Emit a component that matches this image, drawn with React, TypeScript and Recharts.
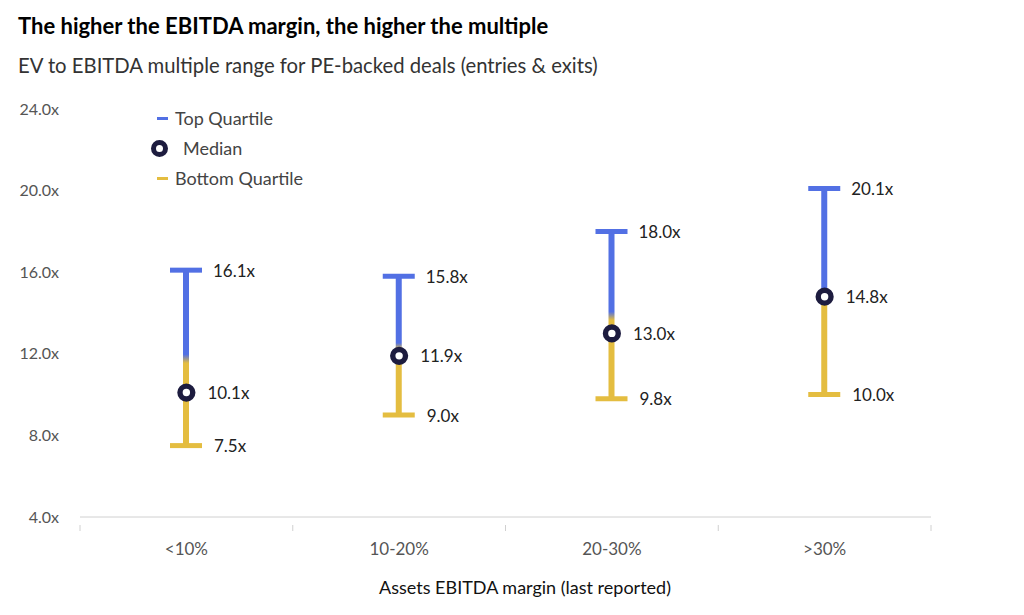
import { ComposedChart, Bar, Scatter, XAxis, YAxis, Legend } from 'recharts'

const CATEGORIES = ['<10%', '10-20%', '20-30%', '>30%']
const TOP_QUARTILE = [16.1, 15.8, 18.0, 20.1]
const MEDIAN = [10.1, 11.9, 13.0, 14.8]
const BOTTOM_QUARTILE = [7.5, 9.0, 9.8, 10.0]
const Y_TICKS = [4, 8, 12, 16, 20, 24]

const BLUE = '#5270E4'
const YELLOW = '#E4BD40'
const NAVY = '#1D1C3F'
const AXIS = '#d0d0d0'
const FONT = 'Lato, "Open Sans", sans-serif'

const data = CATEGORIES.map((name, i) => ({
  name,
  range: [BOTTOM_QUARTILE[i], TOP_QUARTILE[i]],
  top: TOP_QUARTILE[i],
  median: MEDIAN[i],
  bottom: BOTTOM_QUARTILE[i],
}))

const fmt = (v: number) => `${v.toFixed(1)}x`

// whisker: gradient stem plus top/bottom caps and their labels
const RangeShape = (props: any) => {
  const { x, y, width, height, payload, index } = props
  const cx = x + width / 2
  const gid = `range-grad-${index}`
  return (
    <g>
      <defs>
        <linearGradient id={gid} x1="0" y1="0" x2="0" y2="1">
          <stop offset="0.48" stopColor={BLUE} />
          <stop offset="0.53" stopColor={YELLOW} />
        </linearGradient>
      </defs>
      <rect x={x} y={y} width={width} height={height} fill={`url(#${gid})`} />
      <line x1={cx - 16} x2={cx + 16} y1={y} y2={y} stroke={BLUE} strokeWidth={5} />
      <line x1={cx - 16} x2={cx + 16} y1={y + height} y2={y + height} stroke={YELLOW} strokeWidth={5} />
      <text x={cx + 27} y={y} dominantBaseline="central" fontSize={17} fill="#222" fontFamily={FONT}>
        {fmt(payload.top)}
      </text>
      <text x={cx + 28} y={y + height} dominantBaseline="central" fontSize={17} fill="#222" fontFamily={FONT}>
        {fmt(payload.bottom)}
      </text>
    </g>
  )
}

const MedianShape = (props: any) => {
  const { cx, cy, payload } = props
  return (
    <g>
      <circle cx={cx} cy={cy} r={6.4} fill="#fff" stroke={NAVY} strokeWidth={5.4} />
      <text x={cx + 21} y={cy} dominantBaseline="central" fontSize={17} fill="#222" fontFamily={FONT}>
        {fmt(payload.median)}
      </text>
    </g>
  )
}

// category label at band centre, tick mark at band edges
const CategoryTick = (props: any) => {
  const { x, y, width, index, visibleTicksCount, payload } = props
  const band = width / visibleTicksCount
  const left = x - band / 2
  return (
    <g>
      <line x1={left} x2={left} y1={y} y2={y + 6} stroke={AXIS} />
      {index === visibleTicksCount - 1 && (
        <line x1={left + band} x2={left + band} y1={y} y2={y + 6} stroke={AXIS} />
      )}
      <text x={x} y={y + 30} textAnchor="middle" fontSize={17} fill="#555" fontFamily={FONT}>
        {payload.value}
      </text>
    </g>
  )
}

const LegendContent = () => (
  <div style={{ fontFamily: FONT, fontSize: 18, color: '#444', lineHeight: '30px' }}>
    <div style={{ display: 'flex', alignItems: 'center' }}>
      <span style={{ width: 11, height: 3, background: BLUE, marginLeft: 7, marginRight: 7 }} />
      Top Quartile
    </div>
    <div style={{ display: 'flex', alignItems: 'center' }}>
      <span
        style={{
          width: 7, height: 7, borderRadius: '50%', border: `5px solid ${NAVY}`,
          marginLeft: 1, marginRight: 15,
        }}
      />
      Median
    </div>
    <div style={{ display: 'flex', alignItems: 'center' }}>
      <span style={{ width: 11, height: 3, background: YELLOW, marginLeft: 7, marginRight: 7 }} />
      Bottom Quartile
    </div>
  </div>
)

export default function App() {
  return (
    <div style={{ position: 'absolute', left: 0, top: 0, width: 1024, height: 615, background: '#fff' }}>
      <div
        style={{
          position: 'absolute', left: 18, top: 15, lineHeight: 1,
          fontFamily: FONT, fontWeight: 700, fontSize: 22, color: '#000',
        }}
      >
        The higher the EBITDA margin, the higher the multiple
      </div>
      <div
        style={{
          position: 'absolute', left: 18, top: 55, lineHeight: 1,
          fontFamily: FONT, fontSize: 20.3, color: '#333',
        }}
      >
        EV to EBITDA multiple range for PE-backed deals (entries &amp; exits)
      </div>

      <ComposedChart width={1024} height={615} data={data} margin={{ top: 109, right: 93, bottom: 58, left: 0 }}>
        <XAxis
          dataKey="name"
          height={40}
          axisLine={{ stroke: AXIS }}
          tickLine={false}
          tick={<CategoryTick />}
        />
        <YAxis
          domain={[4, 24]}
          ticks={Y_TICKS}
          width={80}
          axisLine={false}
          tickLine={false}
          tickSize={0}
          tickMargin={21}
          tickFormatter={fmt}
          tick={{ fill: '#555', fontSize: 16, fontFamily: FONT }}
        />
        <Legend
          layout="horizontal"
          verticalAlign="middle"
          align="center"
          content={<LegendContent />}
          wrapperStyle={{ left: 150, top: 103, width: 'auto' }}
        />
        <Bar dataKey="range" barSize={6} shape={<RangeShape />} isAnimationActive={false} />
        <Scatter dataKey="median" shape={<MedianShape />} isAnimationActive={false} />
      </ComposedChart>

      <div
        style={{
          position: 'absolute', left: 0, width: 1050, top: 578, lineHeight: 1, textAlign: 'center',
          fontFamily: FONT, fontSize: 18, color: '#111',
        }}
      >
        Assets EBITDA margin (last reported)
      </div>
    </div>
  )
}
